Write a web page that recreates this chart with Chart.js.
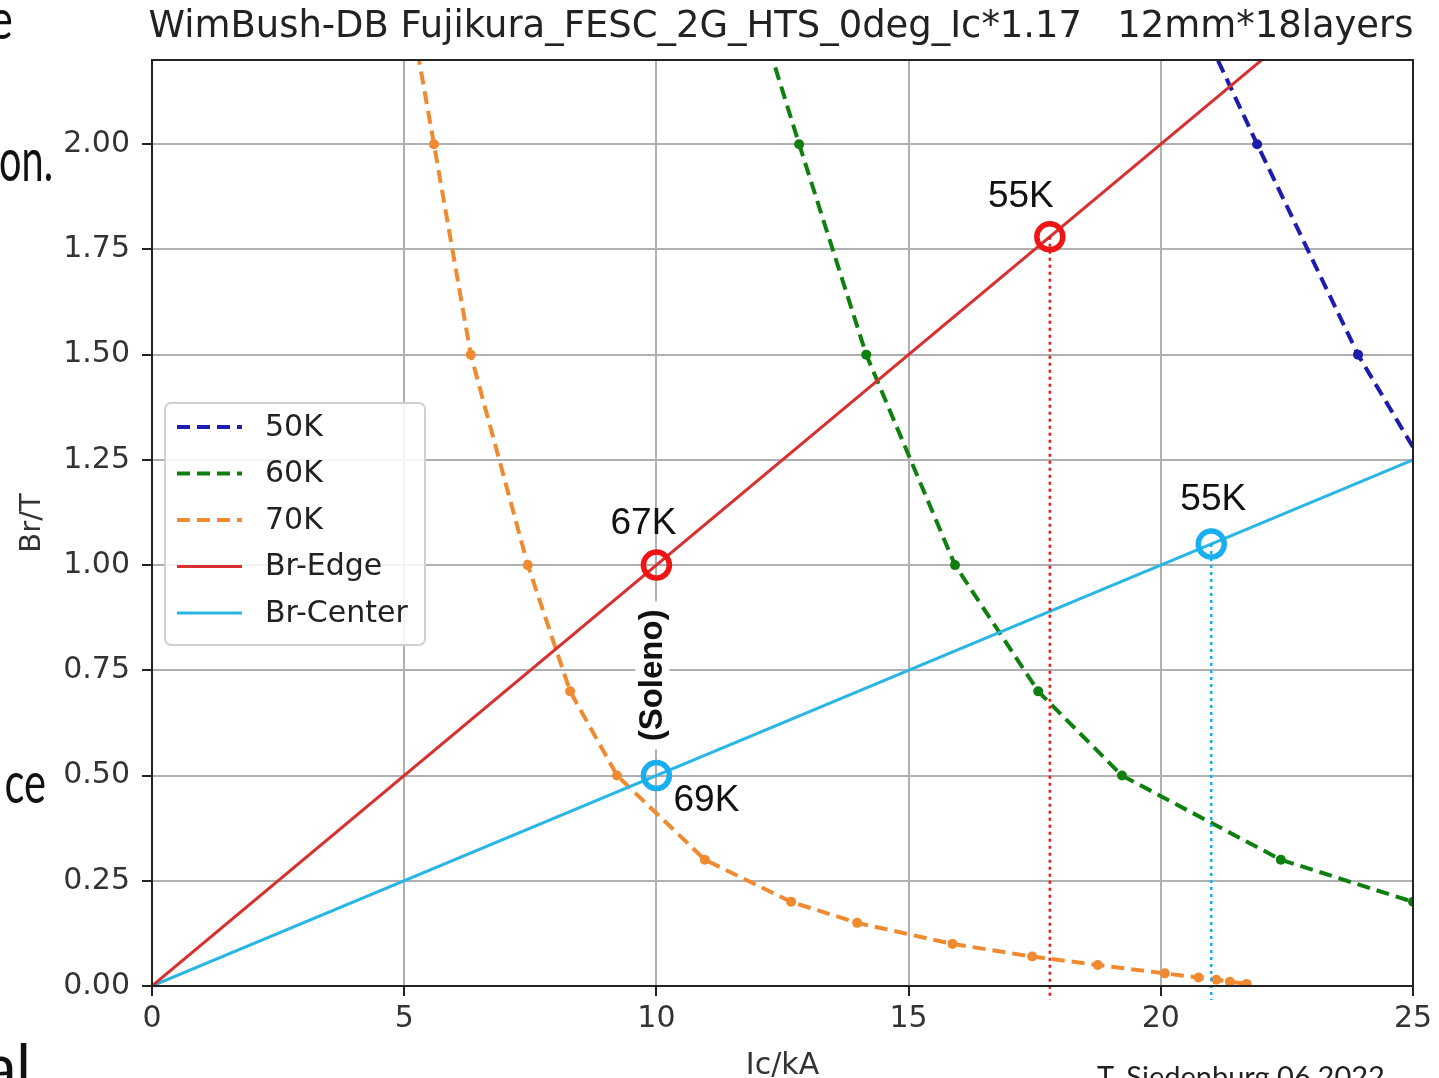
<!DOCTYPE html>
<html><head><meta charset="utf-8">
<script src="https://cdn.jsdelivr.net/npm/chart.js@4.4.1/dist/chart.umd.min.js"></script>
<style>
html,body{margin:0;padding:0;background:#fff;overflow:hidden;width:1439px;height:1078px;}
#wrap{position:relative;width:1439px;height:1078px;overflow:hidden;}
canvas{position:absolute;left:0;top:0;}
.frag{position:absolute;white-space:nowrap;font-family:Lato,'Open Sans',sans-serif;color:#111;line-height:1;text-align:right;transform-origin:right center;}
.sig{position:absolute;white-space:nowrap;font-family:Lato,'Open Sans',sans-serif;color:#222;line-height:1;}
</style></head><body>
<div id="wrap">
<canvas id="c" width="1439" height="1078"></canvas>
<div class="frag" style="left:-300px;width:313px;top:-10px;font-size:56px;transform:scaleX(0.8);">e</div>
<div class="frag" style="left:-300px;width:353px;top:128px;font-size:60px;transform:scaleX(0.66);">on.</div>
<div class="frag" style="left:-300px;width:346px;top:752px;font-size:58px;transform:scaleX(0.72);">ce</div>
<div class="frag" style="left:-300px;width:331px;top:1034px;font-size:62px;">al</div>
<div class="sig" style="left:1097px;top:1061px;font-size:29px;">T. Siedenburg 06.2022</div>
</div>
<script>
// ---- text ----
const TITLE = 'WimBush-DB Fujikura_FESC_2G_HTS_0deg_Ic*1.17   12mm*18layers';
const X_TITLE = 'Ic/kA';
const Y_TITLE = 'Br/T';
const SOLENO = '(Soleno)';

// ---- axes ----
const xTicks = [0, 5, 10, 15, 20, 25];
const yTicks = [0, 0.25, 0.5, 0.75, 1.0, 1.25, 1.5, 1.75, 2.0];
const xMin = 0, xMax = 25, yMin = 0, yMax = 2.2;

// ---- series: critical current Ic (kA) vs field Br (T) ----
const seriesNames = ['50K', '60K', '70K', 'Br-Edge', 'Br-Center'];
const ic50 = [19.96, 21.91, 23.91, 26.39];
const br50 = [2.5, 2.0, 1.5, 1.0];
const ic60 = [11.53, 12.83, 14.16, 15.92, 17.57, 19.23, 22.38, 25.0];
const br60 = [2.5, 2.0, 1.5, 1.0, 0.7, 0.5, 0.3, 0.2];
const ic70 = [4.85, 5.59, 6.32, 7.45, 8.29, 9.22, 10.96, 12.67, 13.98, 15.87, 17.45, 18.75, 20.08, 20.75, 21.1, 21.37, 21.7];
const br70 = [2.5, 2.0, 1.5, 1.0, 0.7, 0.5, 0.3, 0.2, 0.15, 0.1, 0.07, 0.05, 0.03, 0.02, 0.015, 0.01, 0.005];
const icEdge = [0, 25];
const brEdge = [0, 2.5];
const icCenter = [0, 25];
const brCenter = [0, 1.25];

// ---- marked operating points ----
const edgePtIc = [10, 17.8];
const edgePtBr = [1.0, 1.78];
const edgePtLabel = ['67K', '55K'];
const centerPtIc = [10, 21.0];
const centerPtBr = [0.5, 1.05];
const centerPtLabel = ['69K', '55K'];
const dropBottom = -0.033;

const pts = (xs, ys) => xs.map((x, i) => ({x, y: ys[i]}));

const C50 = '#1c1cb0', C60 = '#0f7f0f', C70 = '#f08a30', CEDGE = '#d8302e', CCENTER = '#2ab6e4';
const CRED = '#f01414', CBLUE = '#18aef0';

function dashed(label, xs, ys, color) {
  return {label, data: pts(xs, ys), showLine: true, borderColor: color, backgroundColor: color,
    borderWidth: 4, borderDash: [13, 7], pointRadius: 5, pointBackgroundColor: color,
    pointBorderWidth: 0, tension: 0, clip: 0, order: 5};
}
function solid(label, xs, ys, color) {
  return {label, data: pts(xs, ys), showLine: true, borderColor: color, backgroundColor: color,
    borderWidth: 3, pointRadius: 0, tension: 0, clip: 0, order: 4};
}
function drop(xv, yv, color) {
  return {label: '', data: [{x: xv, y: yv}, {x: xv, y: dropBottom}], showLine: true, borderColor: color,
    borderWidth: 2.5, borderDash: [3, 4], pointRadius: 0, clip: false, order: 3};
}
function rings(xs, ys, color) {
  return {label: '', data: pts(xs, ys), showLine: false, pointRadius: 13, pointBorderWidth: 5.5,
    pointBorderColor: color, pointBackgroundColor: 'rgba(0,0,0,0)', clip: false, order: 1};
}

const datasets = [
  dashed(seriesNames[0], ic50, br50, C50),
  dashed(seriesNames[1], ic60, br60, C60),
  dashed(seriesNames[2], ic70, br70, C70),
  solid(seriesNames[3], icEdge, brEdge, CEDGE),
  solid(seriesNames[4], icCenter, brCenter, CCENTER),
  drop(edgePtIc[1], edgePtBr[1], CRED),
  drop(centerPtIc[1], centerPtBr[1], CBLUE),
  rings(edgePtIc, edgePtBr, CRED),
  rings(centerPtIc, centerPtBr, CBLUE)
];

const decor = {
  id: 'decor',
  afterDatasetsDraw(chart) {
    const ctx = chart.ctx, ca = chart.chartArea;
    const xs = chart.scales.x, ys = chart.scales.y;
    ctx.save();
    // frame
    ctx.strokeStyle = '#222'; ctx.lineWidth = 2;
    ctx.strokeRect(ca.left, ca.top, ca.right - ca.left, ca.bottom - ca.top);

    // point labels
    ctx.fillStyle = '#111';
    ctx.font = '37px "Liberation Sans", Arial, sans-serif';
    ctx.textAlign = 'center'; ctx.textBaseline = 'middle';
    const edgeOff = [[-13, -41], [-29, -40]];
    const centOff = [[50, 25], [2, -44]];
    edgePtLabel.forEach((t, i) => {
      ctx.fillText(t, xs.getPixelForValue(edgePtIc[i]) + edgeOff[i][0], ys.getPixelForValue(edgePtBr[i]) + edgeOff[i][1]);
    });
    centerPtLabel.forEach((t, i) => {
      ctx.fillText(t, xs.getPixelForValue(centerPtIc[i]) + centOff[i][0], ys.getPixelForValue(centerPtBr[i]) + centOff[i][1]);
    });
    // (Soleno)
    const sx = xs.getPixelForValue(edgePtIc[0]) - 4;
    const sy = (ys.getPixelForValue(edgePtBr[0]) + ys.getPixelForValue(centerPtBr[0])) / 2 + 5;
    ctx.save();
    ctx.translate(sx, sy); ctx.rotate(-Math.PI / 2);
    ctx.fillStyle = '#fff';
    ctx.fillRect(-74, -17, 148, 34);
    ctx.fillStyle = '#111';
    ctx.font = 'bold 33px "Liberation Sans", Arial, sans-serif';
    ctx.fillText(SOLENO, 0, 1);
    ctx.restore();

    // legend box
    const x0 = ca.left + 13, y0 = ca.top + 343, w = 260, h = 242;
    ctx.fillStyle = 'rgba(255,255,255,0.85)';
    ctx.strokeStyle = '#d0d0d0'; ctx.lineWidth = 2;
    ctx.beginPath(); ctx.roundRect(x0, y0, w, h, 6); ctx.fill(); ctx.stroke();
    ctx.font = '30px "DejaVu Sans", sans-serif';
    ctx.textAlign = 'left'; ctx.textBaseline = 'middle';
    for (let i = 0; i < 5; i++) {
      const ds = chart.data.datasets[i];
      const yy = y0 + 24 + i * 46.5;
      ctx.strokeStyle = ds.borderColor; ctx.lineWidth = ds.borderWidth;
      ctx.setLineDash(ds.borderDash || []);
      ctx.beginPath(); ctx.moveTo(x0 + 12, yy); ctx.lineTo(x0 + 77, yy); ctx.stroke();
      ctx.setLineDash([]);
      ctx.fillStyle = '#222';
      ctx.fillText(ds.label, x0 + 100, yy + 1);
    }
    ctx.restore();
  },
  afterDraw(chart) {
    const ctx = chart.ctx;
    ctx.save();
    ctx.fillStyle = '#222';
    ctx.font = '37px "DejaVu Sans", sans-serif';
    ctx.textAlign = 'center'; ctx.textBaseline = 'middle';
    ctx.fillText(TITLE, 781, 27, 1265);
    ctx.restore();
  }
};

new Chart(document.getElementById('c'), {
  type: 'scatter',
  data: {datasets},
  options: {
    responsive: false, animation: false, devicePixelRatio: 1,
    layout: {padding: {top: 60, right: 26, left: 0, bottom: 0}},
    plugins: {legend: {display: false}, tooltip: {enabled: false}, title: {display: false}},
    scales: {
      x: {
        type: 'linear', min: xMin, max: xMax,
        afterFit(s) { s.height = 92; },
        afterBuildTicks(s) { s.ticks = xTicks.map(v => ({value: v})); },
        grid: {color: '#b0b0b0', lineWidth: 2, tickLength: 10, tickColor: '#222', tickWidth: 2},
        border: {display: true, color: '#222', width: 2},
        ticks: {font: {family: 'DejaVu Sans', size: 30}, color: '#333', padding: 5, maxRotation: 0, callback: v => String(v)},
        title: {display: true, text: X_TITLE, font: {family: 'DejaVu Sans', size: 30, lineHeight: 0.8}, color: '#333', padding: 0}
      },
      y: {
        type: 'linear', min: yMin, max: yMax,
        afterFit(s) { s.width = 152; },
        afterBuildTicks(s) { s.ticks = yTicks.map(v => ({value: v})); },
        grid: {color: '#b0b0b0', lineWidth: 2, tickLength: 10, tickColor: '#222', tickWidth: 2},
        border: {display: true, color: '#222', width: 2},
        ticks: {font: {family: 'DejaVu Sans', size: 30}, color: '#333', padding: 12, callback: v => Number(v).toFixed(2)},
        title: {display: true, text: Y_TITLE, font: {family: 'DejaVu Sans', size: 29, lineHeight: 1.2}, color: '#333', padding: {top: 15, bottom: 0}}
      }
    }
  },
  plugins: [decor]
});
</script>
</body></html>
